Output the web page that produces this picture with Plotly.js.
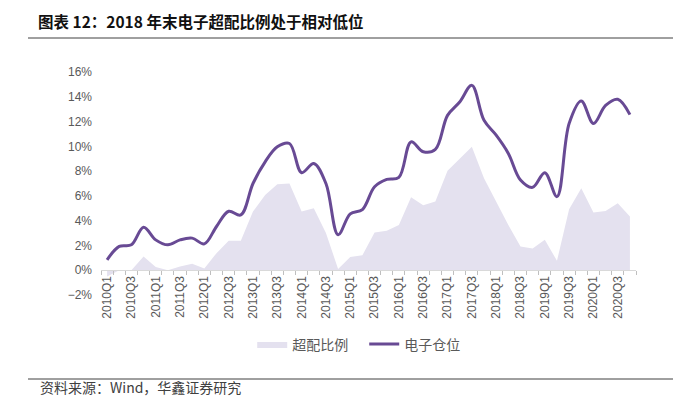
<!DOCTYPE html>
<html><head><meta charset="utf-8">
<script src="https://cdn.plot.ly/plotly-3.0.1.min.js"></script>
<style>html,body{margin:0;padding:0;background:#fff;}#chart{width:673px;height:396px;}</style>
</head><body><div id="chart"></div>
<script>
var quarters = ["2010Q1","2010Q2","2010Q3","2010Q4","2011Q1","2011Q2","2011Q3","2011Q4",
"2012Q1","2012Q2","2012Q3","2012Q4","2013Q1","2013Q2","2013Q3","2013Q4",
"2014Q1","2014Q2","2014Q3","2014Q4","2015Q1","2015Q2","2015Q3","2015Q4",
"2016Q1","2016Q2","2016Q3","2016Q4","2017Q1","2017Q2","2017Q3","2017Q4",
"2018Q1","2018Q2","2018Q3","2018Q4","2019Q1","2019Q2","2019Q3","2019Q4",
"2020Q1","2020Q2","2020Q3","2020Q4"];
var overweight = [-0.5,0.0,0.0,1.1,0.26,0.0,0.3,0.52,0.14,1.38,2.37,2.37,4.73,6.07,6.93,7.0,
4.73,5.0,3.0,0.1,1.06,1.2,3.04,3.18,3.66,5.89,5.24,5.54,8.03,9.03,9.96,7.42,
5.54,3.66,1.92,1.76,2.45,0.76,4.92,6.61,4.65,4.79,5.4,4.33];
var position = [0.84,1.92,2.05,3.47,2.45,2.05,2.45,2.59,2.13,3.53,4.76,4.46,7.0,8.75,9.96,10.23,
7.87,8.62,7.0,2.86,4.55,4.9,6.74,7.33,7.5,10.36,9.56,9.75,12.5,13.58,14.92,12.1,
10.9,9.43,7.28,6.69,7.87,5.94,11.84,13.66,11.84,13.3,13.8,12.56];
var tickText = quarters.map(function(q,i){return i%2===0?q:"";});

var cjk = '"Noto Sans CJK SC", sans-serif';
var latin = '"Liberation Sans", Arial, sans-serif';
var traces = [
 {x: quarters, y: overweight, name: "超配比例", type: "scatter", mode: "lines",
  fill: "tozeroy", fillcolor: "#e4e1ef", line: {width: 0, color: "#e4e1ef"}},
 {x: quarters, y: position, name: "电子仓位", type: "scatter", mode: "lines",
  line: {color: "#684a94", width: 3, shape: "spline", smoothing: 1}}
];
var layout = {
 width: 673, height: 396,
 margin: {l: 101, r: 37, t: 72, b: 101},
 paper_bgcolor: "#fff", plot_bgcolor: "#fff",
 showlegend: true,
 title: {text: "<b>图表 12：2018 年末电子超配比例处于相对低位</b>", xref: "container", yref: "container",
   x: 38/673, xanchor: "left", y: 1-23/396, yanchor: "middle",
   font: {family: cjk, size: 15.5, color: "#111"}},
 xaxis: {type: "category", anchor: "free", position: 2/18,
   tickmode: "array", tickvals: quarters, ticktext: tickText, tickangle: -90,
   tickson: "boundaries", ticks: "outside", ticklen: 4, tickcolor: "#bfbfbf",
   showline: true, linecolor: "#d9d9d9", linewidth: 1, showgrid: false, zeroline: false,
   tickfont: {family: latin, size: 12, color: "#595959"},
   range: [-0.5, 43.5], fixedrange: true},
 yaxis: {range: [-2, 16], dtick: 2, ticksuffix: "%", showgrid: false, zeroline: false,
   showline: false, ticks: "", ticklabelstandoff: 8,
   tickfont: {family: latin, size: 12, color: "#595959"}},
 legend: {orientation: "h", x: 0.492, xanchor: "center", y: -0.222, yanchor: "middle",
   entrywidth: 67, entrywidthmode: "pixels",
   font: {family: cjk, size: 14, color: "#595959"}, bgcolor: "rgba(0,0,0,0)"},
 shapes: [
  {type: "line", xref: "paper", yref: "paper", x0: -73/535, x1: 572/535,
   y0: (396-101-38)/223, y1: (396-101-38)/223, line: {color: "#404040", width: 1}},
  {type: "line", xref: "paper", yref: "paper", x0: -73/535, x1: 572/535,
   y0: (295-379)/223, y1: (295-379)/223, line: {color: "#404040", width: 1}}
 ],
 annotations: [
  {text: "资料来源：Wind，华鑫证券研究", xref: "paper", yref: "paper", x: -63/535, xanchor: "left",
   y: (295-387)/223, yanchor: "middle", showarrow: false,
   font: {family: cjk, size: 14, color: "#404040"}}
 ]
};
Plotly.newPlot("chart", traces, layout, {displayModeBar: false, staticPlot: true});
</script></body></html>
